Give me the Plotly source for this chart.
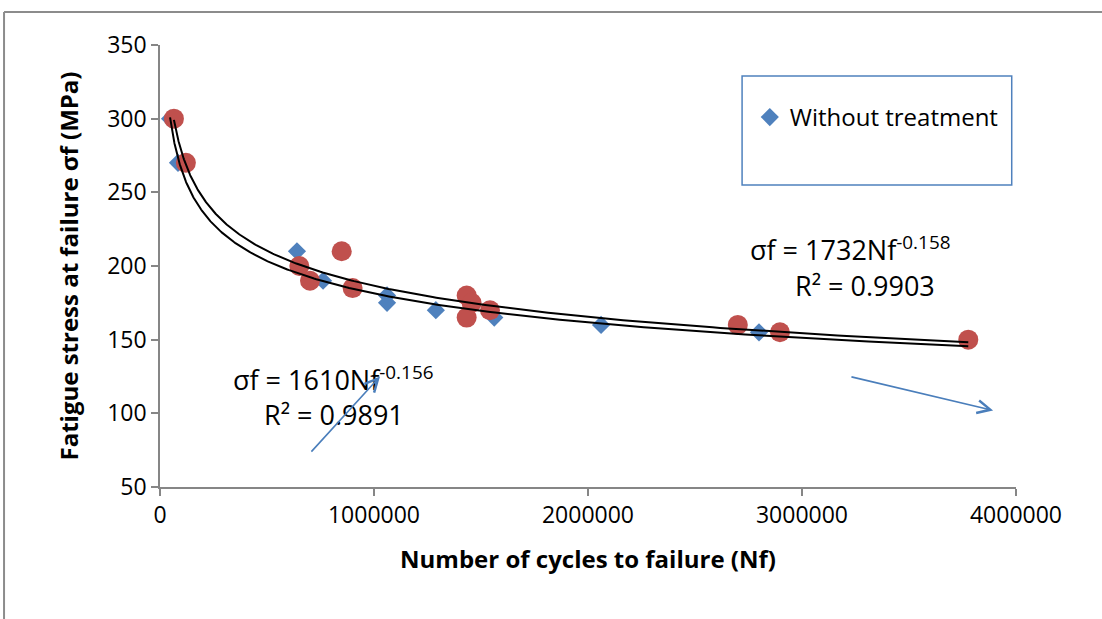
import numpy as np
import plotly.graph_objects as go

# Data
blue_name = "Without treatment"
blue_x = [47000, 84000, 640000, 762000, 1061000, 1061000, 1289000, 1562000, 2061000, 2799000]
blue_y = [300, 270, 210, 190, 180, 175, 170, 165, 160, 155]

red_x = [65000, 121000, 651000, 701000, 849000, 900000, 1433000, 1456000, 1433000, 1542000, 2700000, 2897000, 3777000]
red_y = [300, 270, 200, 190, 210, 185, 180, 175, 165, 170, 160, 155, 150]

eq1_lines = ["σf = 1610Nf<sup>-0.156</sup>", "R² = 0.9891"]
eq2_lines = ["σf = 1732Nf<sup>-0.158</sup>", "R² = 0.9903"]

x_ticks = [0, 1000000, 2000000, 3000000, 4000000]
y_ticks = [50, 100, 150, 200, 250, 300, 350]

FONT = "Open Sans"
BLUE = "#4F81BD"
RED = "#C0504D"
AXIS = "#868686"


def power_fit(xs, ys, x_end):
    xs = np.asarray(xs, float)
    ys = np.asarray(ys, float)
    b, a = np.polyfit(np.log(xs), np.log(ys), 1)
    xx = np.geomspace(xs.min(), x_end, 300)
    return xx, np.exp(a) * xx ** b


x_end = max(max(blue_x), max(red_x))
tb_x, tb_y = power_fit(blue_x, blue_y, x_end)
tr_x, tr_y = power_fit(red_x, red_y, x_end)

fig = go.Figure()
fig.add_trace(go.Scatter(x=blue_x, y=blue_y, mode="markers", name=blue_name,
                         marker=dict(symbol="diamond", size=14, color=BLUE, line=dict(width=0))))
fig.add_trace(go.Scatter(x=red_x, y=red_y, mode="markers", name="Treated", showlegend=False,
                         marker=dict(symbol="circle", size=20, color=RED, line=dict(width=0))))
fig.add_trace(go.Scatter(x=tb_x, y=tb_y, mode="lines", showlegend=False, hoverinfo="skip",
                         line=dict(color="black", width=2)))
fig.add_trace(go.Scatter(x=tr_x, y=tr_y, mode="lines", showlegend=False, hoverinfo="skip",
                         line=dict(color="black", width=2)))

annotations = []
for txt, (px, py) in zip(eq1_lines, [(0.2021, 0.2466), (0.2033, 0.165)]):
    annotations.append(dict(text=txt, x=px, y=py, xref="paper", yref="paper", showarrow=False,
                            xanchor="center", yanchor="middle",
                            font=dict(family=FONT, size=27, color="black")))
for txt, (px, py) in zip(eq2_lines, [(0.806, 0.540), (0.8236, 0.457)]):
    annotations.append(dict(text=txt, x=px, y=py, xref="paper", yref="paper", showarrow=False,
                            xanchor="center", yanchor="middle",
                            font=dict(family=FONT, size=27, color="black")))

# decorative arrows
for (hx, hy, tx, ty) in [(1028000, 125, 701000, 73), (3893000, 102, 3224000, 125)]:
    annotations.append(dict(x=hx, y=hy, ax=tx, ay=ty, xref="x", yref="y", axref="x", ayref="y",
                            text="", showarrow=True, arrowhead=5, arrowsize=1.6, arrowwidth=1.6,
                            arrowcolor="#4A7EBB"))

shapes = [
    # legend box
    dict(type="rect", xref="paper", yref="paper", x0=0.680, x1=0.995, y0=0.683, y1=0.930,
         line=dict(color=BLUE, width=1.5), fillcolor="rgba(0,0,0,0)"),
    # outer frame (top and left)
    dict(type="line", xref="paper", yref="paper", x0=-0.1822, x1=1.11, y0=1.0747, y1=1.0747,
         line=dict(color="#8C8C8C", width=2)),
    dict(type="line", xref="paper", yref="paper", x0=-0.1822, x1=-0.1822, y0=1.0747, y1=-0.31,
         line=dict(color="#8C8C8C", width=2)),
]

fig.update_layout(
    width=1102, height=619,
    margin=dict(l=160, r=86, t=45, b=132),
    paper_bgcolor="white", plot_bgcolor="white",
    font=dict(family=FONT, color="black"),
    showlegend=True,
    legend=dict(x=0.689, y=0.887, xanchor="left", yanchor="top",
                bgcolor="rgba(0,0,0,0)", borderwidth=0,
                font=dict(family=FONT, size=24, color="black")),
    annotations=annotations,
    shapes=shapes,
    xaxis=dict(range=[0, 4000000], tickvals=x_ticks, ticktext=[str(v) for v in x_ticks],
               showgrid=False, zeroline=False, showline=True, linecolor=AXIS, linewidth=1.5,
               ticks="outside", ticklen=7, tickcolor=AXIS, tickwidth=1.5,
               tickfont=dict(family=FONT, size=23, color="black"),
               title=dict(text="<b>Number of cycles to failure (Nf)</b>", standoff=22,
                          font=dict(family=FONT, size=24, color="black"))),
    yaxis=dict(range=[50, 350], tickvals=y_ticks, showgrid=False, zeroline=False,
               showline=True, linecolor=AXIS, linewidth=1.5,
               ticks="outside", ticklen=7, tickcolor=AXIS, tickwidth=1.5,
               tickfont=dict(family=FONT, size=23, color="black"),
               title=dict(text="<b>Fatigue stress at failure σf (MPa)</b>", standoff=22,
                          font=dict(family=FONT, size=24, color="black"))),
)

fig.write_html("out.html", config={"displayModeBar": False},
               post_script="document.body.style.margin='0';document.body.style.overflow='hidden';")
